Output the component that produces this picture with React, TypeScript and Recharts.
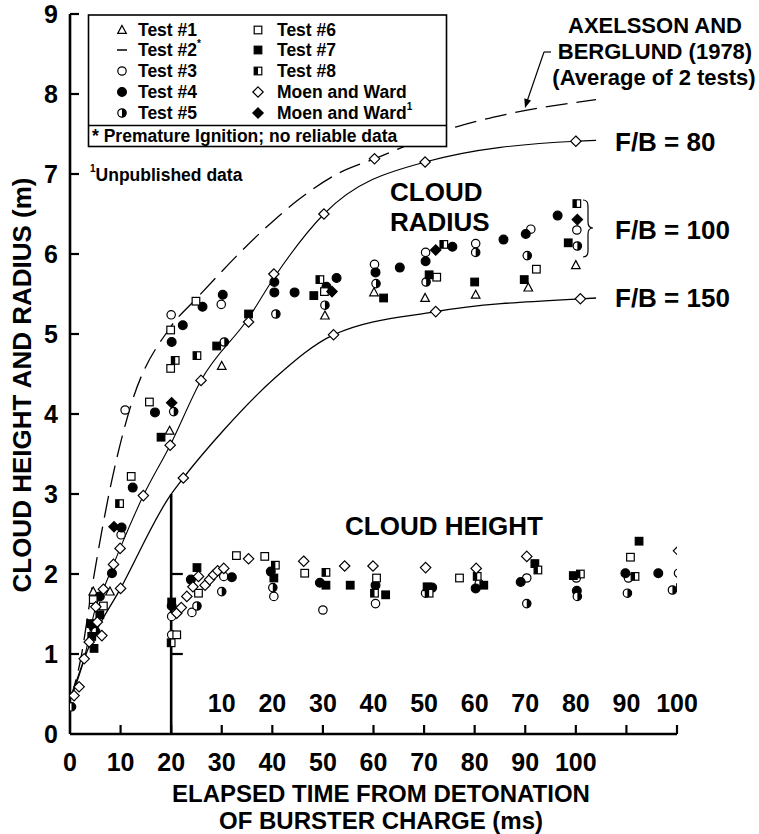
import React from 'react';
import { ComposedChart, XAxis, YAxis, Line, Scatter, ReferenceLine } from 'recharts';

const FONT = '"Liberation Sans", Arial, Helvetica, sans-serif';
const W = 759;
const H = 834;

// Axes
const X_TICKS = [0, 10, 20, 30, 40, 50, 60, 70, 80, 90, 100, 110, 120];
const X_LABEL_MAX = 100;
const HEIGHT_T0 = 20; // cloud-height data are plotted on an inner time axis starting at 20 ms
const Y_TICKS = [0, 1, 2, 3, 4, 5, 6, 7, 8, 9];
const INNER_Y_TICKS = [1, 2];
const INNER_Y_TOP = 3;

// Curves [t (ms), value (m)]
const AB_CURVE: number[][] = [
  [0, 0.42], [2, 0.9], [4.6, 1.93], [8.3, 3.18], [12, 4.1], [19.8, 5.08], [25.1, 5.45],
  [38.9, 6.34], [45.2, 6.68], [52.8, 7.0], [60.2, 7.19], [76.4, 7.59], [85.8, 7.74], [104, 7.93],
];
const FB80_CURVE: number[][] = [
  [0, 0.42], [2.8, 0.94], [5.1, 1.59], [6.6, 1.81], [8.6, 2.12], [9.9, 2.32], [14.5, 2.98],
  [19.8, 3.61], [25.9, 4.42], [35.3, 5.2], [40.3, 5.7], [50.2, 6.5], [70.2, 7.15], [100, 7.41], [104, 7.42],
];
const FB150_CURVE: number[][] = [
  [0, 0.42], [3.8, 1.1], [10, 1.82], [19.8, 2.98], [22.4, 3.2], [30.4, 3.8], [40.5, 4.45],
  [52.1, 4.99], [72.3, 5.28], [100.9, 5.44], [104, 5.45],
];

// Cloud radius points [t, r]
const R_TEST1 = [[4.6, 1.78], [7.9, 1.78], [19.7, 3.79], [30, 4.6], [50.4, 5.23], [60.1, 5.52], [70.2, 5.45], [80.2, 5.49], [90.6, 5.58], [100, 5.86]];
const R_TEST3 = [[10.1, 2.49], [10.9, 4.05], [20, 5.24], [29.9, 5.37], [60.2, 5.87], [70.3, 6.02], [80.2, 6.13], [91.1, 6.31], [100.2, 6.3]];
const R_TEST4 = [[4.6, 1.34], [5.9, 1.72], [8.3, 2.01], [10.2, 2.58], [12.4, 3.08], [16.8, 4.02], [20.1, 4.9], [22.3, 5.11], [26.2, 5.34], [30.2, 5.49], [40.4, 5.65], [40.4, 5.52], [44.4, 5.52], [50.7, 5.59], [52.7, 5.7], [60.4, 5.77], [65.2, 5.83], [70.3, 5.91], [75.6, 6.09], [85.7, 6.18], [90.1, 6.25], [96.4, 6.48]];
const R_TEST5 = [[0.3, 0.34], [5.1, 1.28], [20.5, 4.03], [30.5, 4.9], [40.7, 5.25], [50.4, 5.36], [60.5, 5.63], [70.4, 5.65], [80.2, 6.02], [90.4, 5.98], [100.3, 6.1]];
const R_TEST6 = [[4.6, 1.68], [6.6, 1.6], [12.1, 3.22], [15.7, 4.15], [19.9, 4.57], [19.9, 5.05], [24.9, 5.41], [50.3, 5.53], [72.5, 5.71], [92.2, 5.81]];
const R_TEST7 = [[4.1, 1.38], [4.3, 1.22], [4.75, 1.07], [5.9, 1.49], [18, 3.71], [29, 4.85], [35.3, 5.25], [48.2, 5.48], [62, 5.45], [71, 5.74], [80, 5.65], [89.8, 5.68], [98.5, 6.14]];
const R_TEST8 = [[9.8, 2.88], [20.8, 4.67], [25.1, 4.73], [49.4, 5.68], [73.9, 6.12], [100.2, 6.63]];
const R_MW = [[0.8, 0.48], [1.8, 0.59], [2.8, 0.94], [3.8, 1.15], [5.1, 1.59], [5.4, 1.4], [6.3, 1.23], [6.6, 1.81], [8.6, 2.12], [9.9, 2.32], [10, 1.82], [14.5, 2.98], [19.8, 3.61], [22.4, 3.2], [25.9, 4.42], [35.3, 5.15], [40.3, 5.75], [50.2, 6.5], [52.1, 4.99], [60.2, 7.19], [70.2, 7.15], [72.3, 5.28], [100, 7.41], [100.9, 5.44]];
const R_MW1 = [[8.7, 2.59], [20.1, 4.14], [51.8, 5.53], [72.3, 6.05], [100.3, 6.43]];

// Cloud height points [t on inner axis, h]
const H_TEST3 = [[0.1, 1.47], [0.1, 1.24], [4.1, 1.52], [10.4, 1.97], [20.3, 1.72], [30, 1.55], [40.4, 1.63], [50.3, 1.76], [60.9, 1.88], [70.3, 1.95], [80.1, 1.95], [90.4, 1.95], [100.3, 2.01]];
const H_TEST4 = [[0.1, 1.6], [3.9, 1.93], [12, 1.96], [19.7, 2.03], [29.4, 1.89], [40.4, 1.86], [51.6, 1.83], [60.2, 1.82], [69.1, 1.9], [80.2, 1.79], [89.8, 2.01], [96.3, 2.01]];
const H_TEST5 = [[5.1, 1.6], [10, 1.78], [20.1, 1.83], [70.3, 1.63], [80.3, 1.72], [90.2, 1.76], [99.1, 1.8]];
const H_TEST6 = [[1.1, 1.24], [5.4, 1.76], [12.9, 2.23], [18.5, 2.22], [26.4, 2.01], [40.6, 1.95], [57, 1.95], [90.8, 2.21]];
const H_TEST7 = [[0.1, 1.65], [5.1, 2.08], [20.3, 1.95], [30.6, 1.86], [35.4, 1.86], [42.4, 1.74], [50.6, 1.84], [61.8, 1.86], [71.9, 2.13], [79.5, 1.98], [92.5, 2.41]];
const H_TEST8 = [[0, 1.14], [20.6, 2.11], [30.6, 2.02], [40.2, 1.76], [51, 1.76], [60.5, 1.97], [72.5, 2.05], [80.9, 2.0], [91.7, 1.97], [100.7, 1.83]];
const H_MW = [[1.1, 1.51], [2, 1.58], [3.1, 1.72], [4.3, 1.84], [5.4, 1.97], [6.7, 1.86], [7.6, 1.93], [8.4, 1.99], [9.2, 2.04], [10.4, 2.07], [15.3, 2.19], [26.2, 2.16], [34.3, 2.1], [39.9, 2.1], [50.3, 2.08], [60.3, 2.07], [70.3, 2.22], [100.3, 2.29]];

const LEGEND_LEFT = [
  { kind: 'tri', label: 'Test #1', sup: '' },
  { kind: 'dash', label: 'Test #2', sup: '*' },
  { kind: 'circ', label: 'Test #3', sup: '' },
  { kind: 'dot', label: 'Test #4', sup: '' },
  { kind: 'halfc', label: 'Test #5', sup: '' },
];
const LEGEND_RIGHT = [
  { kind: 'sq', label: 'Test #6', sup: '' },
  { kind: 'fsq', label: 'Test #7', sup: '' },
  { kind: 'halfsq', label: 'Test #8', sup: '' },
  { kind: 'dia', label: 'Moen and Ward', sup: '' },
  { kind: 'fdia', label: 'Moen and Ward', sup: '1' },
];

const toPts = (a: number[][]) => a.map(([t, v]) => ({ t, v }));
const toHeightPts = (a: number[][]) => a.map(([t, v]) => ({ t: t + HEIGHT_T0, v }));

function Marker({ kind, cx, cy }: { kind: string; cx: number; cy: number }) {
  const sw = 1.2;
  const k = '#000';
  switch (kind) {
    case 'tri':
      return <polygon points={`${cx},${cy - 4.6} ${cx - 4.3},${cy + 3.4} ${cx + 4.3},${cy + 3.4}`} fill="#fff" stroke={k} strokeWidth={sw} />;
    case 'dash':
      return <line x1={cx - 5} x2={cx + 5} y1={cy} y2={cy} stroke={k} strokeWidth={1.5} />;
    case 'circ':
      return <circle cx={cx} cy={cy} r={4.2} fill="#fff" stroke={k} strokeWidth={sw} />;
    case 'dot':
      return <circle cx={cx} cy={cy} r={4.4} fill={k} stroke={k} strokeWidth={sw} />;
    case 'halfc':
      return (
        <g>
          <circle cx={cx} cy={cy} r={4.2} fill="#fff" stroke={k} strokeWidth={sw} />
          <path d={`M ${cx} ${cy - 4.2} A 4.2 4.2 0 0 1 ${cx} ${cy + 4.2} Z`} fill={k} />
        </g>
      );
    case 'sq':
      return <rect x={cx - 3.8} y={cy - 3.8} width={7.6} height={7.6} fill="#fff" stroke={k} strokeWidth={sw} />;
    case 'fsq':
      return <rect x={cx - 3.8} y={cy - 3.8} width={7.6} height={7.6} fill={k} stroke={k} strokeWidth={sw} />;
    case 'halfsq':
      return (
        <g>
          <rect x={cx - 3.8} y={cy - 3.8} width={7.6} height={7.6} fill="#fff" stroke={k} strokeWidth={sw} />
          <rect x={cx - 3.8} y={cy - 3.8} width={3.8} height={7.6} fill={k} />
        </g>
      );
    case 'dia':
      return <polygon points={`${cx},${cy - 5.2} ${cx + 5.2},${cy} ${cx},${cy + 5.2} ${cx - 5.2},${cy}`} fill="#fff" stroke={k} strokeWidth={sw} />;
    case 'fdia':
      return <polygon points={`${cx},${cy - 5.2} ${cx + 5.2},${cy} ${cx},${cy + 5.2} ${cx - 5.2},${cy}`} fill={k} stroke={k} strokeWidth={sw} />;
    default:
      return null;
  }
}

const shape = (kind: string) => (p: any) => <Marker kind={kind} cx={p.cx} cy={p.cy} />;

const XTick = (props: any) => {
  const { x, y, payload } = props;
  const v = payload.value as number;
  return (
    <g>
      {v > 0 && <line x1={x} x2={x} y1={y} y2={y - 9} stroke="#000" strokeWidth={2.2} />}
      {v <= X_LABEL_MAX && (
        <text x={x} y={y + 28} textAnchor="middle" dominantBaseline="central" fontFamily={FONT} fontWeight="bold" fontSize={25} fill="#000">
          {v}
        </text>
      )}
      {v >= HEIGHT_T0 + 10 && (
        <text x={x} y={y - 31} textAnchor="middle" dominantBaseline="central" fontFamily={FONT} fontWeight="bold" fontSize={25} fill="#000">
          {v - HEIGHT_T0}
        </text>
      )}
    </g>
  );
};

const YTick = (props: any) => {
  const { x, y, payload } = props;
  const v = payload.value as number;
  return (
    <g>
      {v > 0 && <line x1={x} x2={x + 9} y1={y} y2={y} stroke="#000" strokeWidth={2.2} />}
      <text x={x - 12} y={y} textAnchor="end" dominantBaseline="central" fontFamily={FONT} fontWeight="bold" fontSize={25} fill="#000">
        {v}
      </text>
    </g>
  );
};

const txt = { fontFamily: FONT, fontWeight: 'bold' as const, fill: '#000' };

function Overlay() {
  const rowY = [30, 50, 71, 92, 113];
  return (
    <svg width={W} height={H} style={{ position: 'absolute', left: 0, top: 0, pointerEvents: 'none' }}>
      {/* legend */}
      <rect x={88.5} y={15} width={358} height={131.5} fill="#fff" stroke="#000" strokeWidth={1.6} />
      <line x1={88.5} x2={446.5} y1={125.5} y2={125.5} stroke="#000" strokeWidth={1.4} />
      {LEGEND_LEFT.map((e, i) => (
        <g key={'l' + i}>
          <Marker kind={e.kind} cx={122} cy={rowY[i]} />
          <text x={138} y={rowY[i]} dominantBaseline="central" fontSize={17.5} {...txt}>
            {e.label}
            {e.sup && <tspan fontSize={10} dy={-7}>{e.sup}</tspan>}
          </text>
        </g>
      ))}
      {LEGEND_RIGHT.map((e, i) => (
        <g key={'r' + i}>
          <Marker kind={e.kind} cx={258} cy={rowY[i]} />
          <text x={277} y={rowY[i]} dominantBaseline="central" fontSize={17.5} {...txt}>
            {e.label}
            {e.sup && <tspan fontSize={10} dy={-7}>{e.sup}</tspan>}
          </text>
        </g>
      ))}
      <text x={92} y={136} dominantBaseline="central" fontSize={17.5} {...txt}>* Premature Ignition; no reliable data</text>
      <text x={90} y={175} dominantBaseline="central" fontSize={17.5} {...txt}>
        <tspan fontSize={10} dy={-7}>1</tspan>
        <tspan dy={7}>Unpublished data</tspan>
      </text>

      {/* Axelsson label + arrow */}
      <text x={655} y={25} textAnchor="middle" dominantBaseline="central" fontSize={22} {...txt}>AXELSSON AND</text>
      <text x={655} y={51} textAnchor="middle" dominantBaseline="central" fontSize={22} {...txt}>BERGLUND (1978)</text>
      <text x={654} y={77} textAnchor="middle" dominantBaseline="central" fontSize={22} {...txt}>(Average of 2 tests)</text>
      <line x1={544} y1={52} x2={551} y2={52} stroke="#000" strokeWidth={1.2} />
      <line x1={544} y1={52} x2={527.5} y2={100} stroke="#000" strokeWidth={1.2} />
      <polygon points="525,108 531,100.5 524.3,98.3" fill="#000" />

      {/* F/B labels */}
      <text x={615} y={142} dominantBaseline="central" fontSize={26} {...txt}>F/B = 80</text>
      <text x={615} y={230} dominantBaseline="central" fontSize={26} {...txt}>F/B = 100</text>
      <text x={615} y={298} dominantBaseline="central" fontSize={26} {...txt}>F/B = 150</text>
      <path d="M 583 200 Q 588 200 588 206 L 588 222 Q 588 228 593 228 Q 588 228 588 234 L 588 251 Q 588 257 583 257" fill="none" stroke="#000" strokeWidth={1.2} />

      {/* region labels */}
      <text x={390} y={192} dominantBaseline="central" fontSize={26} {...txt}>CLOUD</text>
      <text x={390} y={222} dominantBaseline="central" fontSize={26} {...txt}>RADIUS</text>
      <text x={345} y={526} dominantBaseline="central" fontSize={26} {...txt}>CLOUD HEIGHT</text>

      {/* axis titles */}
      <text x={381} y={793} textAnchor="middle" dominantBaseline="central" fontSize={24} {...txt}>ELAPSED TIME FROM DETONATION</text>
      <text x={381} y={820} textAnchor="middle" dominantBaseline="central" fontSize={24} {...txt}>OF BURSTER CHARGE (ms)</text>
      <text x={22} y={385} textAnchor="middle" dominantBaseline="central" fontSize={26} transform="rotate(-90 22 385)" {...txt}>CLOUD HEIGHT AND RADIUS (m)</text>
    </svg>
  );
}

const radiusSeries: [string, number[][]][] = [
  ['tri', R_TEST1], ['circ', R_TEST3], ['dot', R_TEST4], ['halfc', R_TEST5], ['sq', R_TEST6],
  ['fsq', R_TEST7], ['halfsq', R_TEST8], ['dia', R_MW], ['fdia', R_MW1],
];
const heightSeries: [string, number[][]][] = [
  ['circ', H_TEST3], ['dot', H_TEST4], ['halfc', H_TEST5], ['sq', H_TEST6],
  ['fsq', H_TEST7], ['halfsq', H_TEST8], ['dia', H_MW],
];

export default function App() {
  return (
    <div style={{ position: 'relative', width: W, height: H, background: '#fff' }}>
      <style>{'body{margin:0;background:#fff}'}</style>
      <ComposedChart width={W} height={H} margin={{ top: 14, right: 82, left: 10, bottom: 70 }}>
        <XAxis
          type="number"
          dataKey="t"
          domain={[0, 120]}
          ticks={X_TICKS}
          interval={0}
          allowDataOverflow
          tickSize={0}
          tickMargin={0}
          height={30}
          axisLine={{ stroke: '#000', strokeWidth: 2.6 }}
          tickLine={false}
          tick={<XTick />}
        />
        <YAxis
          type="number"
          dataKey="v"
          domain={[0, 9]}
          ticks={Y_TICKS}
          interval={0}
          allowDataOverflow
          tickSize={0}
          tickMargin={0}
          width={60}
          axisLine={{ stroke: '#000', strokeWidth: 2.6 }}
          tickLine={false}
          tick={<YTick />}
        />
        <ReferenceLine segment={[{ x: HEIGHT_T0, y: 0 }, { x: HEIGHT_T0, y: INNER_Y_TOP }]} stroke="#000" strokeWidth={2.6} ifOverflow="visible" />
        {INNER_Y_TICKS.map((v) => (
          <ReferenceLine key={'it' + v} segment={[{ x: HEIGHT_T0, y: v }, { x: HEIGHT_T0 + 2.3, y: v }]} stroke="#000" strokeWidth={2.2} ifOverflow="visible" />
        ))}
        <Line data={toPts(AB_CURVE)} dataKey="v" type="monotone" dot={false} activeDot={false} stroke="#000" strokeWidth={1.3} strokeDasharray="22 9" isAnimationActive={false} />
        <Line data={toPts(FB80_CURVE)} dataKey="v" type="monotone" dot={false} activeDot={false} stroke="#000" strokeWidth={1.1} isAnimationActive={false} />
        <Line data={toPts(FB150_CURVE)} dataKey="v" type="monotone" dot={false} activeDot={false} stroke="#000" strokeWidth={1.3} isAnimationActive={false} />
        {radiusSeries.map(([kind, d], i) => (
          <Scatter key={'r' + i} data={toPts(d)} dataKey="v" shape={shape(kind)} isAnimationActive={false} />
        ))}
        {heightSeries.map(([kind, d], i) => (
          <Scatter key={'h' + i} data={toHeightPts(d)} dataKey="v" shape={shape(kind)} isAnimationActive={false} />
        ))}
      </ComposedChart>
      <Overlay />
    </div>
  );
}
